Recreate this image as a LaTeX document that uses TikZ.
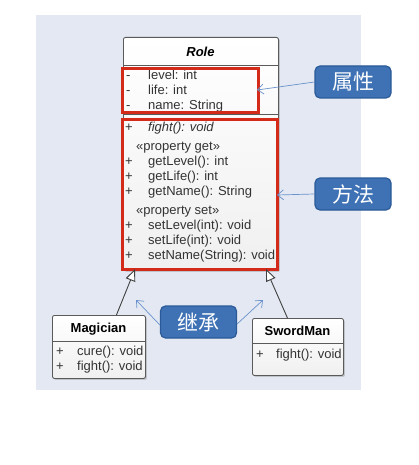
\documentclass[tikz,border=0pt]{standalone}
\usepackage{fontspec}
\setmainfont{Liberation Sans}
\newfontfamily\cjk{Noto Sans CJK SC}
\usetikzlibrary{arrows.meta,shadows}
\definecolor{panelbg}{HTML}{E3E8F2}
\definecolor{redline}{HTML}{D42A1A}
\definecolor{callfill}{HTML}{3F72B5}
\definecolor{calldraw}{HTML}{2A5A98}
\definecolor{callarrow}{HTML}{6A92CC}
\definecolor{membertext}{HTML}{333333}
\definecolor{boxline}{HTML}{5A5A5A}
\tikzset{
  classbox/.style={draw=boxline, line width=0.9pt, rounded corners=2pt,
    top color=white, bottom color=black!6, anchor=north west,
    drop shadow={shadow xshift=1.5pt, shadow yshift=-1.5pt, opacity=0.35}},
  redbox/.style={draw=redline, line width=2.6pt, anchor=north west, inner sep=0pt},
  member/.style={anchor=west, inner sep=0pt, text height=9.5pt, text depth=2.7pt,
    font=\fontsize{13}{15}\selectfont, text=membertext},
  ctitle/.style={anchor=center, inner sep=0pt, font=\fontsize{13}{15}\selectfont\bfseries},
  callout/.style={fill=callfill, draw=calldraw, line width=1.2pt, rounded corners=5pt,
    text=white, font=\cjk\fontsize{21}{24}\selectfont, minimum width=76pt,
    minimum height=32pt, inner sep=0pt},
  callarr/.style={draw=callarrow, line width=0.7pt, -{Straight Barb[length=6pt,width=10pt]}},
  inh/.style={draw=black!75, line width=0.9pt, -{Triangle[open,fill=white,length=12pt,width=10pt]}},
  sep/.style={draw=boxline, line width=0.8pt}
}
\begin{document}
\begin{tikzpicture}[x=1pt,y=-1pt]
\useasboundingbox (0,0) rectangle (418,465);
\fill[white] (0,0) rectangle (418,465);
\fill[panelbg] (36,15) rectangle (361,390);

% Role class
\node[classbox, minimum width=155pt, minimum height=233pt] (role) at (123,37) {};
\draw[sep] (123,65) -- (278,65);
\draw[sep] (123,114) -- (278,114);
\node[ctitle, font=\fontsize{13}{15}\selectfont\bfseries\itshape] (roletitle) at (200.5,52) {Role};
\node[member] (m1s) at (126,76) {-};
\node[member] (m1) at (148,76) {level: int};
\node[member] (m2s) at (126,91) {-};
\node[member] (m2) at (148,91) {life: int};
\node[member] (m3s) at (126,106) {-};
\node[member] (m3) at (148,106) {name: String};
\node[member] (f1s) at (125,128) {+};
\node[member, font=\fontsize{13}{15}\selectfont\itshape] (f1) at (148,128) {fight(): void};
\node[member] (pg) at (136,147) {«property get»};
\node[member] (g1s) at (125,162) {+};
\node[member] (g1) at (148,162) {getLevel(): int};
\node[member] (g2s) at (125,177) {+};
\node[member] (g2) at (148,177) {getLife(): int};
\node[member] (g3s) at (125,192) {+};
\node[member] (g3) at (148,192) {getName(): String};
\node[member] (ps) at (136,211) {«property set»};
\node[member] (s1s) at (125,226) {+};
\node[member] (s1) at (148,226) {setLevel(int): void};
\node[member] (s2s) at (125,241) {+};
\node[member] (s2) at (148,241) {setLife(int): void};
\node[member] (s3s) at (125,256) {+};
\node[member] (s3) at (148,256) {setName(String): void};

% red highlight boxes
\node[redbox, minimum width=136pt, minimum height=44pt] (attrbox) at (121,67) {};
\node[redbox, minimum width=155pt, minimum height=150pt] (methbox) at (121,118) {};

% Magician
\node[classbox, minimum width=93pt, minimum height=63pt] (mag) at (52,315) {};
\draw[sep] (52,341) -- (145,341);
\node[ctitle] (magt) at (98.5,329) {Magician};
\node[member] (mc1s) at (56,352) {+};
\node[member] (mc1) at (77,352) {cure(): void};
\node[member] (mc2s) at (56,367) {+};
\node[member] (mc2) at (77,367) {fight(): void};

% SwordMan
\node[classbox, minimum width=91pt, minimum height=57pt] (sword) at (252,318) {};
\draw[sep] (252,343) -- (343,343);
\node[ctitle] (swt) at (297.5,331) {SwordMan};
\node[member] (sw1s) at (256,355) {+};
\node[member] (sw1) at (276,355) {fight(): void};

% inheritance
\coordinate (tipL) at (135,269);
\coordinate (tipR) at (266,269);
\draw[inh] ([xshift=17.5pt]mag.north) -- (tipL);
\draw[inh] ([xshift=-10.5pt]sword.north) -- (tipR);

% callouts
\node[callout] (attrc) at (353,82) {属性};
\node[callout] (methc) at (353,194) {方法};
\node[callout] (inhc) at (198.5,322) {继承};
\coordinate (attrtip) at (257,90);
\coordinate (methtip) at (277,195);
\coordinate (inhtipL) at (136,300);
\coordinate (inhtipR) at (263,300);
\draw[callarr] (attrc.west) -- (attrtip);
\draw[callarr] (methc.west) -- (methtip);
\draw[callarr] ([yshift=-3pt]inhc.west) -- (inhtipL);
\draw[callarr] ([yshift=-2pt]inhc.east) -- (inhtipR);
\end{tikzpicture}
\end{document}
